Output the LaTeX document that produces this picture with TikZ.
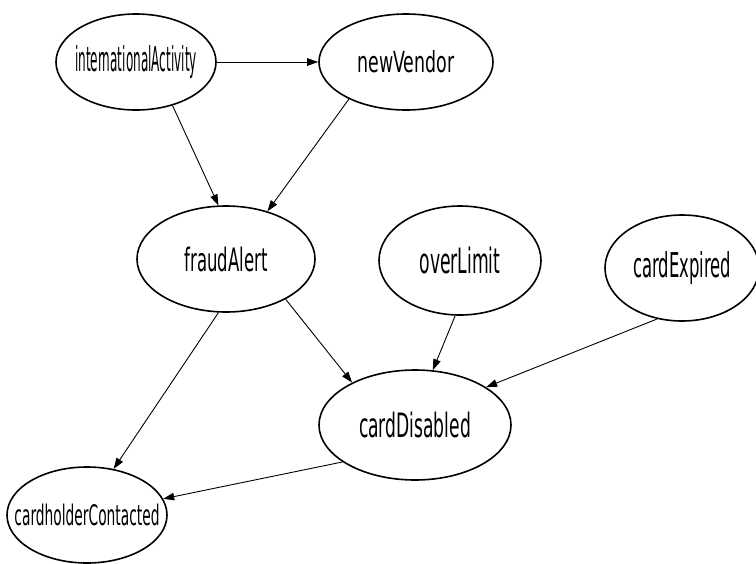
\documentclass[tikz,border=0pt]{standalone}
\usepackage{fontspec}
\setmainfont{DejaVu Sans}
\usetikzlibrary{shapes.geometric,arrows.meta}
\newcommand\lbl[3]{\makebox[0pt]{\resizebox{#1pt}{#2pt}{#3}}}
\begin{document}
\begin{tikzpicture}[x=1pt,y=-1pt,
  state/.style={draw,ellipse,line width=1.6pt,inner sep=0pt},
  edge/.style={line width=0.9pt,-{Triangle[length=11pt,width=7.5pt]}}]
\useasboundingbox (0,0) rectangle (756,563);
\node[state,minimum width=160pt,minimum height=96pt] (ia) at (136,62) {\lbl{122}{26}{internationalActivity}};
\node[state,minimum width=174pt,minimum height=96pt] (nv) at (406,62) {\lbl{97}{22}{newVendor}};
\node[state,minimum width=178pt,minimum height=106pt] (fa) at (226,259) {\lbl{83}{24.5}{fraudAlert}};
\node[state,minimum width=162pt,minimum height=109pt] (ol) at (460,260.5) {\lbl{81}{26.5}{overLimit}};
\node[state,minimum width=154pt,minimum height=106pt] (ce) at (682,268) {\raisebox{3pt}{\lbl{98}{26}{cardExpired}}};
\node[state,minimum width=192pt,minimum height=110pt] (cd) at (415,425) {\lbl{112}{25.5}{cardDisabled}};
\node[state,minimum width=160pt,minimum height=96pt] (cc) at (87,515) {\lbl{145}{21.5}{cardholderContacted}};
\draw[edge] (ia.0) -- (nv.180);
\draw[edge] (ia.-50.6) -- (fa.98);
\draw[edge] (nv.-147.4) -- (fa.49.2);
\draw[edge] (fa.-98.8) -- (cc.60.6);
\draw[edge] (fa.-34.8) -- (cd.146.2);
\draw[edge] (ol.-95.2) -- (cd.72.1);
\draw[edge] (ce.-116.7) -- (cd.28.1);
\draw[edge] (cd.-153.3) -- (cc.12.3);
\end{tikzpicture}
\end{document}
